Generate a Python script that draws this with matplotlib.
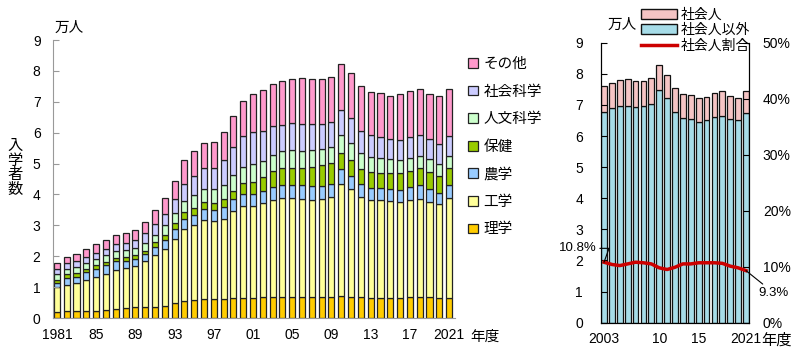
import matplotlib
matplotlib.use("Agg")
import numpy as np
import matplotlib.pyplot as plt
from matplotlib.patches import Patch
from matplotlib.lines import Line2D

plt.rcParams['font.family'] = ['Liberation Sans', 'Noto Sans CJK JP']

# left panel: entrants by field (10k persons), 1981-2021
years = list(range(1981, 2022))
rigaku = [.18, .22, .22, .22, .24, .26, .29, .31, .34, .35, .37, .40, .47, .54, .58, .61, .60, .61, .64, .64,
          .64, .67, .69, .69, .69, .68, .67, .67, .68, .70, .69, .67, .66, .65, .66, .65, .67, .69, .67, .64, .66]
kogaku = [.81, .85, .90, 1.01, 1.09, 1.15, 1.25, 1.31, 1.35, 1.48, 1.67, 1.84, 2.09, 2.35, 2.43, 2.55, 2.53, 2.60,
          2.81, 3.00, 2.99, 3.04, 3.14, 3.20, 3.18, 3.18, 3.16, 3.17, 3.23, 3.65, 3.49, 3.24, 3.17, 3.16, 3.13,
          3.09, 3.16, 3.17, 3.10, 3.05, 3.24]
nogaku = [.15, .23, .22, .25, .27, .30, .30, .24, .23, .23, .27, .27, .32, .32, .34, .36, .37, .37, .39, .39,
          .38, .40, .42, .42, .42, .43, .45, .44, .44, .48, .43, .42, .39, .40, .38, .41, .40, .43, .40, .37, .41]
hoken = [.09, .11, .12, .10, .10, .11, .11, .10, .11, .12, .14, .17, .18, .21, .21, .22, .22, .26, .28, .35,
         .40, .44, .50, .54, .57, .56, .62, .66, .67, .50, .52, .50, .51, .50, .51, .53, .52, .55, .55, .54, .55]
jinbun = [.21, .19, .20, .19, .20, .21, .22, .23, .24, .24, .25, .32, .35, .38, .43, .44, .46, .46, .51, .52,
          .57, .53, .53, .56, .57, .56, .55, .54, .53, .58, .55, .50, .47, .48, .47, .45, .44, .42, .42, .40, .39]
shakai = [.16, .17, .18, .20, .21, .22, .21, .24, .26, .32, .34, .36, .45, .55, .60, .66, .69, .83, .89, .99,
          1.04, .98, .95, .85, .87, .86, .82, .81, .81, .81, .79, .73, .72, .68, .65, .64, .66, .67, .64, .64, .64]
sonota = [.19, .22, .24, .27, .27, .29, .30, .32, .31, .36, .45, .52, .58, .75, .81, .82, .84, .90, 1.01, 1.15,
          1.23, 1.31, 1.35, 1.41, 1.45, 1.51, 1.47, 1.44, 1.44, 1.50, 1.46, 1.44, 1.41, 1.41, 1.40, 1.47, 1.49,
          1.47, 1.48, 1.56, 1.53]
fields = ['理学', '工学', '農学', '保健', '人文科学', '社会科学', 'その他']
field_colors = ['#FFCC00', '#FFFF99', '#99CCFF', '#99CC00', '#CCFFCC', '#CCCCFF', '#FF99CC']
left_ticks = [1981, 1985, 1989, 1993, 1997, 2001, 2005, 2009, 2013, 2017, 2021]
left_ticklabels = ['1981', '85', '89', '93', '97', '01', '05', '09', '13', '17', '2021']

# right panel: working adults vs others, 2003-2021
years_r = list(range(2003, 2022))
others = [6.76, 6.89, 6.98, 6.98, 6.92, 6.95, 7.02, 7.47, 7.21, 6.77, 6.59, 6.55, 6.45, 6.50, 6.60, 6.65, 6.56,
          6.52, 6.75]
workers = [.85, .83, .82, .84, .86, .83, .84, .80, .75, .76, .77, .77, .77, .77, .77, .80, .73, .71, .71]
ratio = [10.8, 10.4, 10.2, 10.5, 10.8, 10.7, 10.5, 9.8, 9.5, 9.9, 10.5, 10.5, 10.7, 10.7, 10.7, 10.6, 10.1, 9.8, 9.3]
right_ticks = [2003, 2010, 2015, 2021]
right_ticklabels = ['2003', '10', '15', '2021']

fig = plt.figure(figsize=(8, 3.49), dpi=100)
W, H = 800, 349

# ---- left panel
ax = fig.add_axes([53 / W, 31 / H, 402 / W, 278 / H])
series = [rigaku, kogaku, nogaku, hoken, jinbun, shakai, sonota]
bottom = np.zeros(len(years))
handles = []
for vals, name, col in zip(series, fields, field_colors):
    b = ax.bar(years, vals, bottom=bottom, width=0.62, color=col, edgecolor='#222222', linewidth=0.9, label=name)
    handles.append(b)
    bottom += np.array(vals)
ax.set_xlim(1980.6, 2021.6)
ax.set_ylim(0, 9)
ax.set_yticks(range(10))
ax.set_xticks(left_ticks)
ax.set_xticklabels(left_ticklabels)
for s in ['top', 'right']:
    ax.spines[s].set_visible(False)
for s in ['left', 'bottom']:
    ax.spines[s].set_color('#999999')
ax.tick_params(axis='y', direction='in', length=4, color='#999999', labelsize=10, pad=9)
ax.tick_params(axis='x', length=0, labelsize=10, pad=7)
fig.text(55 / W, 1 - 28 / H, '万人', fontsize=10.5, va='center', ha='left')
fig.text(15 / W, 1 - 168 / H, '入\n学\n者\n数', fontsize=11, va='center', ha='center', linespacing=1.08)
fig.text(485 / W, 1 - 337 / H, '年度', fontsize=10.5, va='center', ha='center')

fig.legend(handles[::-1], fields[::-1], loc='upper left', bbox_to_anchor=(455 / W, 1 - 44 / H),
           frameon=False, fontsize=10.5, handlelength=0.65, handleheight=0.65, handletextpad=0.4,
           labelspacing=0.93)

# ---- right panel
axr = fig.add_axes([601 / W, 26.3 / H, 148 / W, 280 / H])
axr.bar(years_r, others, width=0.72, color='#A6DCE8', edgecolor='#111111', linewidth=0.9)
axr.bar(years_r, workers, bottom=others, width=0.72, color='#F5C4C4', edgecolor='#111111', linewidth=0.9)
axr.set_xlim(2002.62, 2021.38)
axr.set_ylim(0, 9)
axr.set_yticks(range(10))
axr.set_xticks(right_ticks)
axr.set_xticklabels(right_ticklabels)
axr.spines['top'].set_visible(False)
axr.tick_params(axis='y', direction='in', length=4, labelsize=10, pad=13)
axr.tick_params(axis='x', length=0, labelsize=10, pad=7)

ax2 = axr.twinx()
ax2.plot(years_r, ratio, color='#CC0000', lw=2.5)
ax2.set_ylim(0, 50)
ax2.set_yticks(range(0, 51, 10))
ax2.set_yticklabels([f'{v}%' for v in range(0, 51, 10)])
ax2.spines['top'].set_visible(False)
ax2.tick_params(axis='y', direction='in', length=4, labelsize=10, pad=10)
ax2.annotate(f'{ratio[0]}%', xy=(years_r[0], ratio[0]), xytext=(-5, 10), textcoords='offset points',
             ha='right', va='center', fontsize=9.5,
             arrowprops=dict(arrowstyle='-', color='black', lw=0.8, shrinkA=0, shrinkB=0,
                             connectionstyle='angle,angleA=0,angleB=70,rad=0'))
ax2.annotate(f'{ratio[-1]}%', xy=(years_r[-1], ratio[-1]), xytext=(9, -16), textcoords='offset points',
             ha='left', va='center', fontsize=9.5,
             arrowprops=dict(arrowstyle='-', color='black', lw=0.8, shrinkA=0, shrinkB=0))

fig.text(608 / W, 1 - 25 / H, '万人', fontsize=10.5, va='center', ha='left')
fig.text(777 / W, 1 - 340 / H, '年度', fontsize=11, va='center', ha='center')

rh = [Patch(facecolor='#F5C4C4', edgecolor='#111111'), Patch(facecolor='#A6DCE8', edgecolor='#111111'),
      Line2D([0], [0], color='#CC0000', lw=2.5)]
fig.legend(rh, ['社会人', '社会人以外', '社会人割合'], loc='upper left', bbox_to_anchor=(631 / W, 1 + 2 / H),
           frameon=False, fontsize=10, handlelength=2.6, handleheight=0.7, handletextpad=0.3,
           labelspacing=0.1, borderpad=0.2)

fig.savefig('out.png', dpi=100)
